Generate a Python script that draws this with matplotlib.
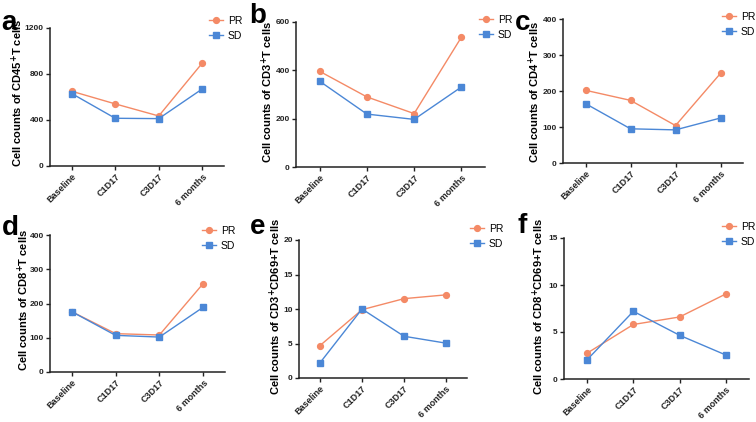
import matplotlib
matplotlib.use("Agg")
import matplotlib.pyplot as plt

# ---------------- data ----------------
categories = ["Baseline", "C1D17", "C3D17", "6 months"]

cd45_pr = [650, 540, 435, 895]
cd45_sd = [630, 415, 412, 670]

cd3_pr = [396, 290, 221, 537]
cd3_sd = [355, 219, 197, 331]

cd4_pr = [202, 174, 104, 249]
cd4_sd = [165, 95, 92, 125]

cd8_pr = [176, 112, 108, 258]
cd8_sd = [176, 107, 102, 189]

cd3cd69_pr = [4.7, 9.9, 11.5, 12.05]
cd3cd69_sd = [2.2, 10.0, 6.05, 5.05]

cd8cd69_pr = [2.75, 5.8, 6.6, 9.05]
cd8cd69_sd = [2.05, 7.2, 4.65, 2.55]

series_names = ["PR", "SD"]
panel_letters = ["a", "b", "c", "d", "e", "f"]
ylabels = [
    r"Cell counts of CD45$^{+}$T cells",
    r"Cell counts of CD3$^{+}$T cells",
    r"Cell counts of CD4$^{+}$T cells",
    r"Cell counts of CD8$^{+}$T cells",
    r"Cell counts of CD3$^{+}$CD69+T cells",
    r"Cell counts of CD8$^{+}$CD69+T cells",
]
yticks_list = [
    [0, 400, 800, 1200],
    [0, 200, 400, 600],
    [0, 100, 200, 300, 400],
    [0, 100, 200, 300, 400],
    [0, 5, 10, 15, 20],
    [0, 5, 10, 15],
]
pr_data = [cd45_pr, cd3_pr, cd4_pr, cd8_pr, cd3cd69_pr, cd8cd69_pr]
sd_data = [cd45_sd, cd3_sd, cd4_sd, cd8_sd, cd3cd69_sd, cd8cd69_sd]

# ---------------- style ----------------
PR_COLOR = "#F48A66"
SD_COLOR = "#4B87D6"
W, H = 756, 422
FAM = ["Liberation Sans Narrow", "Liberation Sans", "DejaVu Sans"]
plt.rcParams["font.family"] = FAM
plt.rcParams["mathtext.fontset"] = "custom"
plt.rcParams["mathtext.rm"] = "Liberation Sans Narrow:bold"
plt.rcParams["mathtext.bf"] = "Liberation Sans Narrow:bold"
plt.rcParams["mathtext.default"] = "bf"

fig = plt.figure(figsize=(W / 100, H / 100), dpi=100)

# axes boxes in pixels: left, right, top, bottom
boxes = [
    (50, 224, 28, 166),
    (296, 485, 22, 167),
    (563, 743, 19, 163),
    (50, 225, 235, 372),
    (299, 467, 240, 378),
    (564, 749, 238, 379),
]
label_x = [25, 275, 542, 31, 283, 546]   # right edge of rotated y-label
label_yc = [93, 92, 92, 300, 307, 307]
letter_pos = [(1, 30), (249, 23), (515, 30), (2, 235), (250, 234), (517, 233)]
legend_pos = [(209, 16), (479, 15), (722, 12), (202, 226), (470, 224), (722, 222)]
TICKFAM = ["Liberation Sans", "DejaVu Sans"]

for i in range(6):
    l, r, t, b = boxes[i]
    ax = fig.add_axes([l / W, 1 - b / H, (r - l) / W, (b - t) / H])
    x = list(range(len(categories)))
    ax.plot(x, pr_data[i], color=PR_COLOR, marker="o", markersize=4.2,
            linewidth=1.0, label=series_names[0], clip_on=False, zorder=3)
    ax.plot(x, sd_data[i], color=SD_COLOR, marker="s", markersize=4.4,
            linewidth=1.0, label=series_names[1], clip_on=False, zorder=3)
    ax.set_xlim(-0.5, 3.5)
    ax.set_ylim(yticks_list[i][0], yticks_list[i][-1])
    ax.set_yticks(yticks_list[i])
    ax.set_xticks(x)
    ax.set_xticklabels(categories, rotation=45, ha="right",
                       rotation_mode="anchor", fontsize=6.5, fontweight="bold",
                       family=TICKFAM)
    for lab in ax.get_yticklabels():
        lab.set_fontsize(6.0)
        lab.set_fontweight("bold")
        lab.set_family(TICKFAM)
    for s in ["top", "right"]:
        ax.spines[s].set_visible(False)
    for s in ["left", "bottom"]:
        ax.spines[s].set_linewidth(1.1)
        ax.spines[s].set_color("#222222")
    ax.tick_params(direction="out", length=3, width=1.0, pad=1.5, colors="#222222")
    ax.set_ylabel(ylabels[i], fontsize=8.0, fontweight="bold")
    ax.yaxis.set_label_coords(label_x[i] / W, 1 - label_yc[i] / H,
                              transform=fig.transFigure)
    lx, ly = legend_pos[i]
    fig.legend(handles=ax.get_lines(), labels=series_names,
               loc="upper left", bbox_to_anchor=(lx / W, 1 - ly / H),
               bbox_transform=fig.transFigure, frameon=False,
               handlelength=1.3, handletextpad=0.5,
               labelspacing=0.45, borderpad=0, borderaxespad=0,
               prop={"family": TICKFAM, "size": 7.5})
    px, py = letter_pos[i]
    fig.text(px / W, 1 - py / H, panel_letters[i], fontsize=20,
             fontweight="bold", ha="left", va="baseline")

fig.savefig("out.png", dpi=100)
